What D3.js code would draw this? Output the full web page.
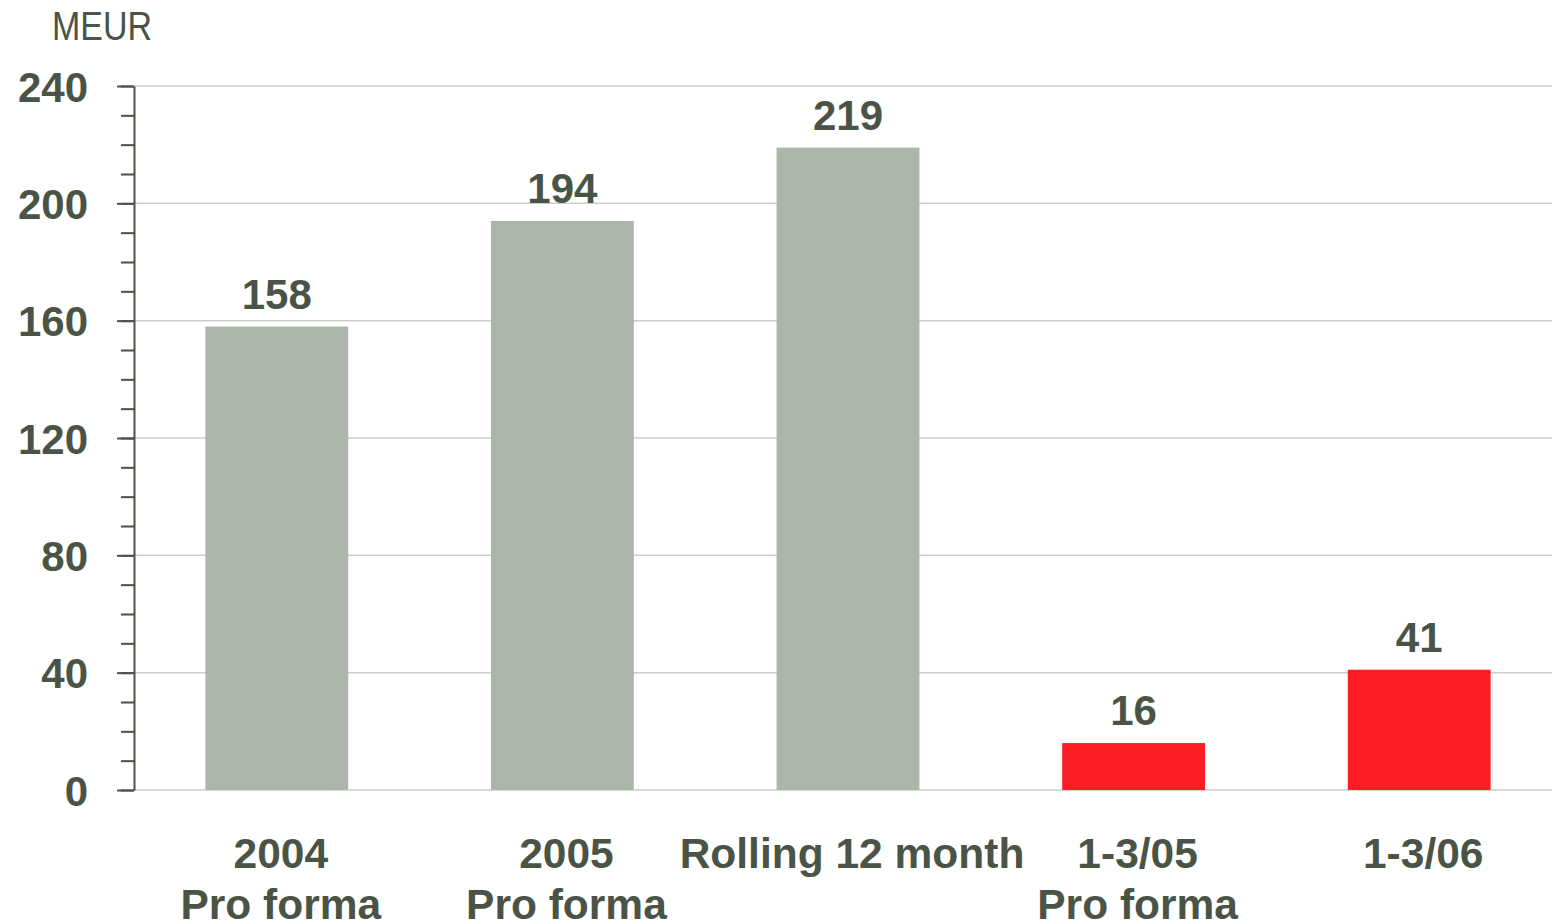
<!DOCTYPE html>
<meta charset="utf-8">
<style>
body { margin: 0; background: #fff; }
text { font-family: "Liberation Sans", Arial, sans-serif; fill: #4a5446; }
.grid line { stroke: #c9cec7; stroke-width: 1.5px; }
.axis path, .axis line { stroke: #4a5446; stroke-width: 2px; }
</style>
<svg width="1552" height="924"></svg>
<script src="https://cdn.jsdelivr.net/npm/d3@7"></script>
<script>
var categories = ["2004|Pro forma", "2005|Pro forma", "Rolling 12 month", "1-3/05|Pro forma", "1-3/06"];
var values = [158, 194, 219, 16, 41];
var colors = ["#abb5a9", "#abb5a9", "#abb5a9", "#fc1c24", "#fc1c24"];
var majorTicks = [0, 40, 80, 120, 160, 200, 240];

var svg = d3.select("svg"),
    plotLeft = 134,
    plotRight = 1562,
    plotTop = 86,
    plotBottom = 790;

var x = d3.scaleBand()
    .domain(categories)
    .range([plotLeft, plotRight])
    .paddingInner(0.5)
    .paddingOuter(0.25);

var y = d3.scaleLinear()
    .domain([0, 240])
    .range([plotBottom, plotTop]);

// gridlines
svg.append("g")
    .attr("class", "grid")
  .selectAll("line")
  .data(majorTicks)
  .enter().append("line")
    .attr("x1", plotLeft)
    .attr("x2", 1552)
    .attr("y1", function(d) { return y(d); })
    .attr("y2", function(d) { return y(d); });

// bars
svg.append("g")
  .selectAll("rect")
  .data(values)
  .enter().append("rect")
    .attr("x", function(d, i) { return x(categories[i]); })
    .attr("width", x.bandwidth())
    .attr("y", function(d) { return y(d); })
    .attr("height", function(d) { return y(0) - y(d); })
    .attr("fill", function(d, i) { return colors[i]; });

// value labels
svg.append("g")
  .selectAll("text")
  .data(values)
  .enter().append("text")
    .attr("x", function(d, i) { return x(categories[i]) + x.bandwidth() / 2; })
    .attr("y", function(d) { return y(d) - 18; })
    .attr("text-anchor", "middle")
    .style("font-size", "42px")
    .style("font-weight", "bold")
    .text(function(d) { return d; });

// y axis: minor ticks
svg.append("g")
    .attr("class", "axis")
    .attr("transform", "translate(" + plotLeft + ",0)")
    .call(d3.axisLeft(y).ticks(24).tickSize(13).tickFormat(""))
    .call(function(g) { g.select(".domain").remove(); });

// y axis: major ticks with labels
var yAxis = svg.append("g")
    .attr("class", "axis")
    .attr("transform", "translate(" + plotLeft + ",0)")
    .call(d3.axisLeft(y).tickValues(majorTicks).tickSize(17).tickSizeOuter(0).tickPadding(29));

yAxis.selectAll("text")
    .style("font-size", "42px")
    .style("font-weight", "bold")
    .attr("fill", "#4a5446")
    .attr("dy", "0.36em");

// category labels
var cat = svg.append("g")
  .selectAll("text")
  .data(categories)
  .enter().append("text")
    .attr("text-anchor", "middle")
    .style("font-size", "42.5px")
    .style("font-weight", "bold")
    .attr("transform", function(d) { return "translate(" + (x(d) + x.bandwidth() / 2 + 4) + ",868)"; });

cat.selectAll("tspan")
  .data(function(d) { return d.split("|"); })
  .enter().append("tspan")
    .attr("x", 0)
    .attr("y", function(d, i) { return i * 51; })
    .text(function(d) { return d; });

// unit
svg.append("text")
    .attr("x", 52)
    .attr("y", 40)
    .attr("textLength", 100)
    .attr("lengthAdjust", "spacingAndGlyphs")
    .style("font-size", "41px")
    .text("MEUR");
</script>
